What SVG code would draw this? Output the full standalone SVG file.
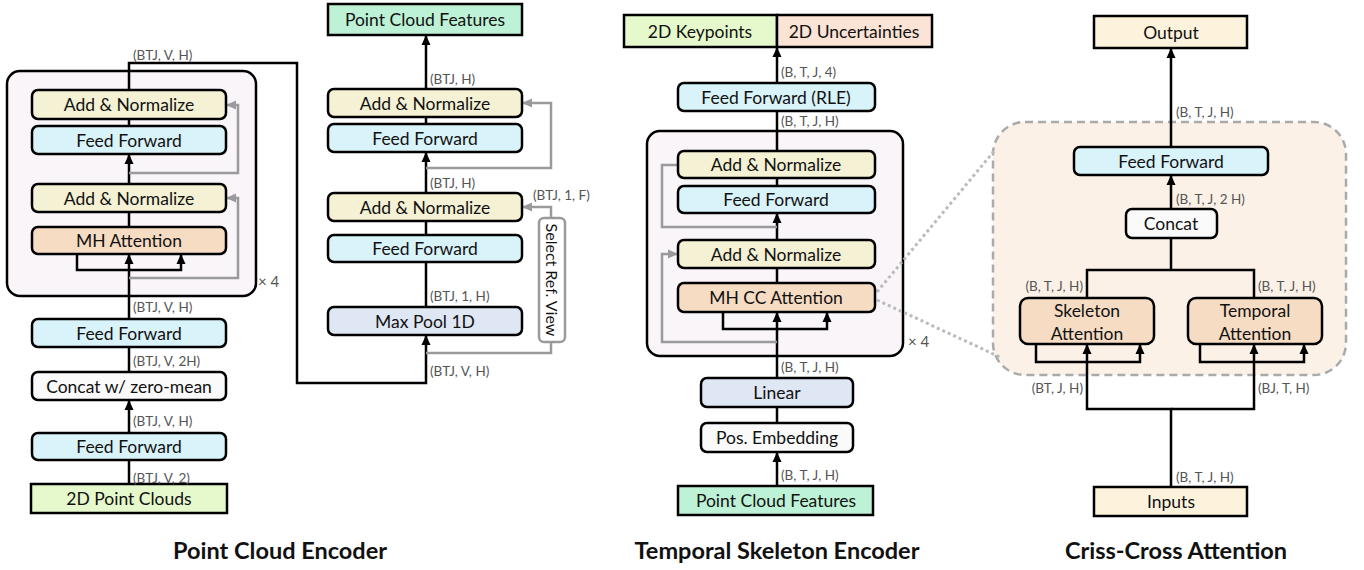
<svg xmlns="http://www.w3.org/2000/svg" width="1364" height="570" viewBox="0 0 1364 570">
<defs>
<marker id="ah" viewBox="0 0 10 10" refX="9" refY="5" markerWidth="10" markerHeight="10" orient="auto" markerUnits="userSpaceOnUse"><path d="M0,0.5 L10,5 L0,9.5 z" fill="#000"/></marker>
<marker id="ahg" viewBox="0 0 10 10" refX="9" refY="5" markerWidth="10" markerHeight="10" orient="auto" markerUnits="userSpaceOnUse"><path d="M0,0.5 L10,5 L0,9.5 z" fill="#9a9a9a"/></marker>
</defs>
<style>
text{font-family:Lato,"Liberation Sans",sans-serif;}
.n{stroke:#000;stroke-width:2.5;}
.t{font-size:17.5px;fill:#111;text-anchor:middle;dominant-baseline:central;}
.l{font-size:13.5px;fill:#555;}
.e{fill:none;stroke:#000;stroke-width:2.5;}
.g{fill:none;stroke:#9a9a9a;stroke-width:2.5;}
.an{fill:#f4f1d4}.ff{fill:#d9f3fa}.att{fill:#f7dcc4}.pool{fill:#dfe6f4}.wh{fill:#fafafa}
.grn{fill:#e6f9cc}.mint{fill:#bdf2d6}.peach{fill:#fbe3d5}.cream{fill:#fdf3dd}
.title{font-size:23.5px;font-weight:bold;fill:#111;text-anchor:middle;}
</style>
<rect x="0" y="0" width="1364" height="570" fill="#fff"/>

<!-- background blocks -->
<g id="block1"><rect x="7" y="71" width="249" height="225" rx="13" fill="#f9f5f9" stroke="#000" stroke-width="2.5"/></g>
<g id="block2"><rect x="647" y="131" width="256" height="225" rx="13" fill="#f9f5f9" stroke="#000" stroke-width="2.5"/></g>
<g id="ccregion"><rect x="993" y="122" width="353" height="253" rx="32" fill="#fbf1e7" stroke="#aaa" stroke-width="2.5" stroke-dasharray="8 5"/></g>

<g id="connectors">
<!-- panel 1 left -->
<line class="e" x1="129" y1="484" x2="129" y2="460"/>
<line class="e" x1="129" y1="433" x2="129" y2="401" marker-end="url(#ah)"/>
<line class="e" x1="129" y1="372" x2="129" y2="347"/>
<line class="e" x1="129" y1="319" x2="129" y2="255" marker-end="url(#ah)"/>
<polyline class="e" points="77,255 77,270 181,270 181,255" marker-start="url(#ah)" marker-end="url(#ah)"/>
<polyline class="g" points="129,278 238,278 238,198 227,198" marker-end="url(#ahg)"/>
<line class="e" x1="129" y1="227" x2="129" y2="212"/>
<line class="e" x1="129" y1="184" x2="129" y2="155" marker-end="url(#ah)"/>
<polyline class="g" points="129,173 238,173 238,105 227,105" marker-end="url(#ahg)"/>
<line class="e" x1="129" y1="126" x2="129" y2="119"/>
<polyline class="e" points="129,90 129,63 297,63 297,383 426,383 426,336" marker-end="url(#ah)"/>
<!-- panel 1 right -->
<line class="e" x1="426" y1="307" x2="426" y2="262"/>
<line class="e" x1="426" y1="235" x2="426" y2="221"/>
<line class="e" x1="426" y1="193" x2="426" y2="153" marker-end="url(#ah)"/>
<polyline class="g" points="426,168 551,168 551,103 523,103" marker-end="url(#ahg)"/>
<line class="e" x1="426" y1="124" x2="426" y2="117"/>
<line class="e" x1="426" y1="89" x2="426" y2="36" marker-end="url(#ah)"/>
<polyline class="g" points="551,218 551,207 523,207" marker-end="url(#ahg)"/>
<polyline class="g" points="551,342 551,353 426,353"/>
<!-- panel 2 -->
<line class="e" x1="777" y1="486" x2="777" y2="453" marker-end="url(#ah)"/>
<line class="e" x1="777" y1="423" x2="777" y2="407"/>
<line class="e" x1="777" y1="378" x2="777" y2="313" marker-end="url(#ah)"/>
<polyline class="e" points="723,313 723,329 827,329 827,313" marker-start="url(#ah)" marker-end="url(#ah)"/>
<polyline class="g" points="777,342 662,342 662,254 677,254" marker-end="url(#ahg)"/>
<line class="e" x1="777" y1="283" x2="777" y2="268"/>
<line class="e" x1="777" y1="240" x2="777" y2="214" marker-end="url(#ah)"/>
<polyline class="g" points="777,227 662,227 662,165 678,165"/>
<line class="e" x1="777" y1="186" x2="777" y2="178"/>
<line class="e" x1="777" y1="151" x2="777" y2="111"/>
<line class="e" x1="777" y1="83" x2="777" y2="48" marker-end="url(#ah)"/>
<!-- panel 3 -->
<polyline class="e" points="1171,487 1171,409 1087,409 1087,345" marker-end="url(#ah)"/>
<polyline class="e" points="1171,409 1254,409 1254,345" marker-end="url(#ah)"/>
<polyline class="e" points="1036,345 1036,362 1140,362 1140,345" marker-start="url(#ah)" marker-end="url(#ah)"/>
<polyline class="e" points="1200,345 1200,362 1304,362 1304,345" marker-start="url(#ah)" marker-end="url(#ah)"/>
<polyline class="e" points="1087,298 1087,270 1254,270 1254,298"/>
<line class="e" x1="1171" y1="270" x2="1171" y2="238"/>
<line class="e" x1="1171" y1="209" x2="1171" y2="176" marker-end="url(#ah)"/>
<line class="e" x1="1171" y1="147" x2="1171" y2="49" marker-end="url(#ah)"/>
<!-- zoom lines -->
<line x1="877" y1="292" x2="995" y2="150" stroke="#bbb" stroke-width="3" stroke-dasharray="3 3"/>
<line x1="877" y1="300" x2="1002" y2="358" stroke="#bbb" stroke-width="3" stroke-dasharray="3 3"/>
</g>

<!-- panel 1 left nodes -->
<g id="p1_an2"><rect class="n an" x="32" y="90" width="194" height="29" rx="6"/><text class="t" x="129" y="104.5">Add &amp; Normalize</text></g>
<g id="p1_ff2"><rect class="n ff" x="32" y="126" width="194" height="28" rx="6"/><text class="t" x="129" y="140">Feed Forward</text></g>
<g id="p1_an1"><rect class="n an" x="32" y="184" width="194" height="28" rx="6"/><text class="t" x="129" y="198">Add &amp; Normalize</text></g>
<g id="p1_mha"><rect class="n att" x="32" y="227" width="194" height="27" rx="6"/><text class="t" x="129" y="240.5">MH Attention</text></g>
<g id="p1_ff1b"><rect class="n ff" x="32" y="319" width="194" height="28" rx="6"/><text class="t" x="129" y="333">Feed Forward</text></g>
<g id="p1_concat"><rect class="n wh" x="32" y="372" width="194" height="28" rx="6"/><text class="t" x="129" y="386">Concat w/ zero-mean</text></g>
<g id="p1_ff0"><rect class="n ff" x="32" y="433" width="194" height="27" rx="6"/><text class="t" x="129" y="446.5">Feed Forward</text></g>
<g id="p1_input"><rect class="n grn" x="31" y="484" width="196" height="29"/><text class="t" x="129" y="498.5">2D Point Clouds</text></g>
<!-- panel 1 right nodes -->
<g id="p1_out"><rect class="n mint" x="328" y="4" width="194" height="31"/><text class="t" x="425" y="19.5">Point Cloud Features</text></g>
<g id="p1r_an2"><rect class="n an" x="328" y="89" width="194" height="28" rx="6"/><text class="t" x="425" y="103">Add &amp; Normalize</text></g>
<g id="p1r_ff2"><rect class="n ff" x="328" y="124" width="194" height="28" rx="6"/><text class="t" x="425" y="138">Feed Forward</text></g>
<g id="p1r_an1"><rect class="n an" x="328" y="193" width="194" height="28" rx="6"/><text class="t" x="425" y="207">Add &amp; Normalize</text></g>
<g id="p1r_ff1"><rect class="n ff" x="328" y="235" width="194" height="27" rx="6"/><text class="t" x="425" y="248.5">Feed Forward</text></g>
<g id="p1r_pool"><rect class="n pool" x="328" y="307" width="194" height="28" rx="6"/><text class="t" x="425" y="321">Max Pool 1D</text></g>
<g id="p1r_sel"><rect x="539" y="218" width="26" height="124" rx="5" fill="#fff" stroke="#9a9a9a" stroke-width="2.5"/><text class="t" x="552" y="280" transform="rotate(90 552 280)" style="font-size:16px">Select Ref. View</text></g>
<!-- panel 2 nodes -->
<g id="p2_out"><rect class="n grn" x="624" y="15" width="153" height="32"/><rect class="n peach" x="777" y="15" width="155" height="32"/><text class="t" x="700" y="31">2D Keypoints</text><text class="t" x="854" y="31">2D Uncertainties</text></g>
<g id="p2_rle"><rect class="n ff" x="678" y="83" width="197" height="28" rx="6"/><text class="t" x="776" y="97">Feed Forward (RLE)</text></g>
<g id="p2_an2"><rect class="n an" x="678" y="151" width="197" height="27" rx="6"/><text class="t" x="776" y="164.5">Add &amp; Normalize</text></g>
<g id="p2_ff"><rect class="n ff" x="678" y="186" width="197" height="27" rx="6"/><text class="t" x="776" y="199.5">Feed Forward</text></g>
<g id="p2_an1"><rect class="n an" x="678" y="240" width="197" height="28" rx="6"/><text class="t" x="776" y="254">Add &amp; Normalize</text></g>
<g id="p2_mhcc"><rect class="n att" x="678" y="283" width="197" height="29" rx="6"/><text class="t" x="776" y="297.5">MH CC Attention</text></g>
<g id="p2_lin"><rect class="n pool" x="701" y="378" width="152" height="29" rx="6"/><text class="t" x="777" y="392.5">Linear</text></g>
<g id="p2_pos"><rect class="n wh" x="701" y="423" width="152" height="29" rx="6"/><text class="t" x="777" y="437.5">Pos. Embedding</text></g>
<g id="p2_in"><rect class="n mint" x="678" y="486" width="195" height="29"/><text class="t" x="776" y="500.5">Point Cloud Features</text></g>
<!-- panel 3 nodes -->
<g id="p3_out"><rect class="n cream" x="1094" y="16" width="153" height="32"/><text class="t" x="1171" y="32">Output</text></g>
<g id="p3_ff"><rect class="n ff" x="1074" y="147" width="194" height="28" rx="6"/><text class="t" x="1171" y="161">Feed Forward</text></g>
<g id="p3_concat"><rect class="n wh" x="1126" y="209" width="91" height="29" rx="6"/><text class="t" x="1171" y="223.5">Concat</text></g>
<g id="p3_skel"><rect class="n att" x="1020" y="298" width="134" height="46" rx="8"/><text class="t" x="1087" y="310">Skeleton</text><text class="t" x="1087" y="333">Attention</text></g>
<g id="p3_temp"><rect class="n att" x="1188" y="298" width="134" height="46" rx="8"/><text class="t" x="1255" y="310">Temporal</text><text class="t" x="1255" y="333">Attention</text></g>
<g id="p3_in"><rect class="n cream" x="1094" y="487" width="153" height="29"/><text class="t" x="1171" y="501.5">Inputs</text></g>

<!-- labels -->
<g id="labels">
<text class="l" x="133" y="60">(BTJ, V, H)</text>
<text class="l" x="133" y="312">(BTJ, V, H)</text>
<text class="l" x="133" y="366">(BTJ, V, 2H)</text>
<text class="l" x="133" y="426">(BTJ, V, H)</text>
<text class="l" x="133" y="483">(BTJ, V, 2)</text>
<text class="l" x="258" y="287" style="font-size:15px">× 4</text>
<text class="l" x="430" y="84">(BTJ, H)</text>
<text class="l" x="430" y="188">(BTJ, H)</text>
<text class="l" x="533" y="200">(BTJ, 1, F)</text>
<text class="l" x="430" y="301">(BTJ, 1, H)</text>
<text class="l" x="430" y="376">(BTJ, V, H)</text>
<text class="l" x="781" y="77">(B, T, J, 4)</text>
<text class="l" x="781" y="126">(B, T, J, H)</text>
<text class="l" x="908" y="347" style="font-size:15px">× 4</text>
<text class="l" x="781" y="372">(B, T, J, H)</text>
<text class="l" x="781" y="480">(B, T, J, H)</text>
<text class="l" x="1176" y="117">(B, T, J, H)</text>
<text class="l" x="1176" y="204">(B, T, J, 2 H)</text>
<text class="l" x="1083" y="291" text-anchor="end">(B, T, J, H)</text>
<text class="l" x="1258" y="291">(B, T, J, H)</text>
<text class="l" x="1083" y="393" text-anchor="end">(BT, J, H)</text>
<text class="l" x="1258" y="393">(BJ, T, H)</text>
<text class="l" x="1176" y="482">(B, T, J, H)</text>
</g>

<g id="titles">
<text class="title" x="280" y="559">Point Cloud Encoder</text>
<text class="title" x="777" y="559">Temporal Skeleton Encoder</text>
<text class="title" x="1176" y="559">Criss-Cross Attention</text>
</g>
</svg>
